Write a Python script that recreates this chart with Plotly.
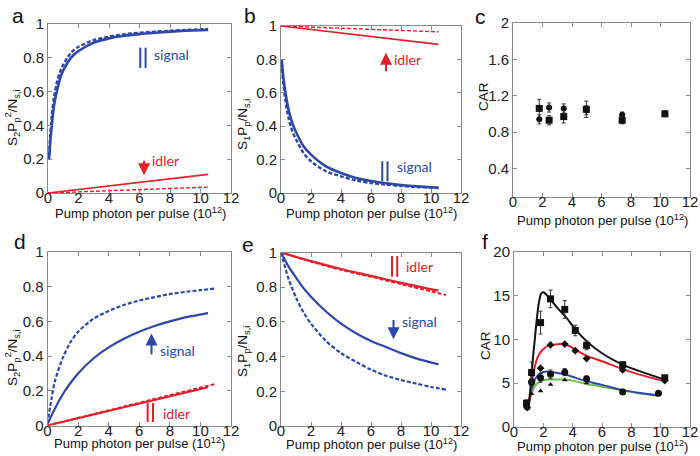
import plotly.graph_objects as go

# ---------------- data ----------------
# Panel a
a_x = [0.07, 0.15, 0.25, 0.4, 0.6, 0.8, 1.0, 1.5, 2, 3, 4, 5, 6, 7, 8, 9, 10.5]
a_sig_solid = [0.2, 0.3, 0.4, 0.52, 0.61, 0.68, 0.725, 0.8, 0.84, 0.89, 0.915, 0.93, 0.94, 0.948, 0.955, 0.96, 0.965]
a_sig_dash = [0.22, 0.35, 0.46, 0.57, 0.66, 0.72, 0.76, 0.83, 0.865, 0.905, 0.925, 0.94, 0.948, 0.955, 0.96, 0.965, 0.97]
a_idl_x = [0, 10.5]
a_idl_solid = [0.0, 0.11]
a_idl_dash = [0.0, 0.035]

# Panel b
b_x = [0.05, 0.15, 0.3, 0.5, 0.75, 1.0, 1.5, 2, 3, 4, 5, 6, 7, 8, 9, 10.5]
b_sig_solid = [0.8, 0.7, 0.6, 0.5, 0.42, 0.365, 0.28, 0.23, 0.16, 0.12, 0.09, 0.072, 0.058, 0.048, 0.04, 0.032]
b_sig_dash = [0.78, 0.66, 0.55, 0.45, 0.37, 0.32, 0.24, 0.19, 0.13, 0.1, 0.075, 0.06, 0.05, 0.042, 0.036, 0.03]
b_idl_x = [0, 10.5]
b_idl_solid = [1.0, 0.89]
b_idl_dash = [1.0, 0.965]

# Panel c
c_x = [1.78, 2.45, 3.44, 4.97, 7.40, 10.3]
c_sq = [1.06, 0.93, 0.97, 1.05, 0.93, 1.0]
c_sq_err = [0.1, 0.05, 0.07, 0.09, 0.04, 0.03]
c_ci = [0.94, 1.07, 1.06, 1.04, 0.99, 1.0]
c_ci_err = [0.05, 0.05, 0.05, 0.05, 0.03, 0.03]

# Panel d
d_x = [0, 0.25, 0.5, 1, 1.5, 2, 3, 4, 5, 6, 7, 8, 9, 10.5]
d_sig_solid = [0.01, 0.055, 0.1, 0.18, 0.245, 0.3, 0.386, 0.45, 0.5, 0.54, 0.573, 0.6, 0.623, 0.648]
d_x_dash = [0, 0.25, 0.5, 1, 1.5, 2, 3, 4, 5, 6, 7, 8, 9, 10, 11]
d_sig_dash = [0.01, 0.15, 0.26, 0.39, 0.48, 0.54, 0.615, 0.66, 0.695, 0.72, 0.74, 0.757, 0.77, 0.78, 0.79]
d_idl_x_solid = [0, 10.5]
d_idl_solid = [0.0, 0.22]
d_idl_x_dash = [0, 11]
d_idl_dash = [0.0, 0.24]

# Panel e
e_x = [0, 0.5, 1, 1.5, 2, 3, 4, 5, 6, 7, 8, 9, 10.5]
e_sig_solid = [1.0, 0.92, 0.855, 0.795, 0.745, 0.66, 0.59, 0.535, 0.49, 0.455, 0.42, 0.39, 0.355]
e_x_dash = [0, 0.5, 1, 1.5, 2, 3, 4, 5, 6, 7, 8, 9, 10, 11]
e_sig_dash = [1.0, 0.85, 0.74, 0.655, 0.59, 0.49, 0.42, 0.37, 0.325, 0.29, 0.265, 0.245, 0.225, 0.21]
e_idl_x = [0, 2, 4, 6, 8, 10.5]
e_idl_solid = [1.0, 0.95, 0.905, 0.865, 0.825, 0.78]
e_idl_x_dash = [0, 2, 4, 6, 8, 11]
e_idl_dash = [1.0, 0.948, 0.9, 0.86, 0.818, 0.755]

# Panel f (markers)
f_sq_x = [0.85, 1.2, 1.81, 2.49, 3.46, 4.18, 4.95, 7.41, 10.28]
f_sq_y = [2.7, 6.2, 11.9, 14.6, 13.4, 11.0, 9.3, 7.1, 5.6]
f_sq_err = [0.4, 1.2, 1.3, 1.0, 1.0, 0.6, 0.5, 0.3, 0.3]
f_di_x = [0.9, 1.2, 1.81, 2.49, 3.46, 4.18, 4.95, 7.41, 10.28]
f_di_y = [2.2, 5.2, 6.7, 9.35, 9.45, 8.7, 7.8, 6.5, 5.3]
f_ci_x = [0.85, 1.2, 1.81, 2.49, 3.46, 4.95, 7.41, 9.85]
f_ci_y = [2.5, 5.1, 5.6, 6.0, 6.25, 5.5, 4.0, 3.85]
f_ci_err = [0.3, 0.4, 0.5, 0.5, 0.4, 0.3, 0.3, 0.2]
f_tr_x = [0.9, 1.2, 1.81, 2.49, 3.46, 4.95, 7.41, 9.85]
f_tr_y = [2.1, 3.8, 4.1, 4.85, 5.35, 5.0, 4.0, 3.8]
# Panel f (fit curves)
f_k_x = [1.0, 1.1, 1.2, 1.3, 1.42, 1.55, 1.7, 1.85, 2.0, 2.2, 2.5, 3.0, 3.5, 4.2, 5.0, 6.0, 7.4, 8.5, 10.3]
f_k_y = [2.5, 4.0, 6.0, 8.0, 10.0, 12.2, 14.2, 15.2, 15.35, 15.1, 14.5, 13.5, 12.6, 11.1, 9.7, 8.4, 7.1, 6.4, 5.4]
f_r_x = [1.0, 1.1, 1.2, 1.3, 1.42, 1.6, 1.8, 2.0, 2.4, 2.9, 3.3, 3.8, 4.2, 5.0, 6.0, 7.4, 8.5, 10.3]
f_r_y = [2.5, 3.6, 4.8, 5.9, 6.9, 7.9, 8.5, 8.9, 9.3, 9.42, 9.45, 9.2, 8.8, 8.07, 7.5, 6.6, 6.0, 5.2]
f_bg_x = [1.0, 1.1, 1.2, 1.3, 1.42, 1.6, 1.8, 2.1, 2.4, 2.8, 3.5, 4.2, 5.0, 6.0, 7.4, 8.5, 9.85]
f_b_y = [2.5, 3.5, 4.3, 4.9, 5.4, 5.85, 6.15, 6.3, 6.3, 6.2, 6.0, 5.6, 5.2, 4.8, 4.2, 3.9, 3.6]
f_g_y = [2.5, 3.2, 3.8, 4.3, 4.66, 5.0, 5.2, 5.35, 5.4, 5.42, 5.4, 5.2, 4.9, 4.6, 4.2, 3.85, 3.55]

x_ticks = [0, 2, 4, 6, 8, 10, 12]
y_ticks_frac = [0, 0.2, 0.4, 0.6, 0.8, 1]
y_ticks_frac_txt = ["0", "0.2", "0.4", "0.6", "0.8", "1"]
y_ticks_c = [0.4, 0.8, 1.2, 1.6, 2]
y_ticks_c_txt = ["0.4", "0.8", "1.2", "1.6", "2"]
y_ticks_f = [0, 5, 10, 15, 20]

BLUE = "#2c48a8"
RED = "#e3202a"
BLACK = "#111111"
GREEN = "#6cc24a"
FONT = "Liberation Sans, Arial, sans-serif"
LFONT = "Lato, Open Sans, sans-serif"

fig = go.Figure()

def line(x, y, color, dash="solid", width=2.2, ax="", shape="spline"):
    fig.add_trace(go.Scatter(x=x, y=y, mode="lines", xaxis="x" + ax, yaxis="y" + ax,
                             line=dict(color=color, dash=dash, width=width, shape=shape, smoothing=0.8),
                             showlegend=False, hoverinfo="skip"))

DASH = "4px,2px"
# a
line(a_x, a_sig_dash, BLUE, DASH, 2.4, "")
line(a_x, a_sig_solid, BLUE, "solid", 2.6, "")
line(a_idl_x, a_idl_solid, RED, "solid", 1.6, "", "linear")
line(a_idl_x, a_idl_dash, RED, DASH, 1.4, "", "linear")
# b
line(b_x, b_sig_dash, BLUE, DASH, 2.4, "2")
line(b_x, b_sig_solid, BLUE, "solid", 2.6, "2")
line(b_idl_x, b_idl_solid, RED, "solid", 1.6, "2", "linear")
line(b_idl_x, b_idl_dash, RED, DASH, 1.4, "2", "linear")
# c
fig.add_trace(go.Scatter(x=c_x, y=c_sq, mode="markers", xaxis="x3", yaxis="y3",
                         marker=dict(symbol="square", size=7, color=BLACK),
                         error_y=dict(type="data", array=c_sq_err, color="#333", thickness=1, width=2),
                         showlegend=False))
fig.add_trace(go.Scatter(x=c_x, y=c_ci, mode="markers", xaxis="x3", yaxis="y3",
                         marker=dict(symbol="circle", size=6, color=BLACK),
                         error_y=dict(type="data", array=c_ci_err, color="#333", thickness=1, width=2),
                         showlegend=False))
# d
line(d_x_dash, d_sig_dash, BLUE, DASH, 2.2, "4")
line(d_x, d_sig_solid, BLUE, "solid", 2.2, "4")
line(d_idl_x_dash, d_idl_dash, RED, DASH, 2.0, "4", "linear")
line(d_idl_x_solid, d_idl_solid, RED, "solid", 2.0, "4", "linear")
# e
line(e_idl_x_dash, e_idl_dash, RED, DASH, 2.0, "5")
line(e_idl_x, e_idl_solid, RED, "solid", 2.2, "5")
line(e_x_dash, e_sig_dash, BLUE, DASH, 2.2, "5")
line(e_x, e_sig_solid, BLUE, "solid", 2.2, "5")
# f curves
line(f_bg_x, f_g_y, GREEN, "solid", 2.0, "6")
line(f_bg_x, f_b_y, BLUE, "solid", 2.0, "6")
line(f_r_x, f_r_y, RED, "solid", 2.0, "6")
line(f_k_x, f_k_y, BLACK, "solid", 2.0, "6")
# f markers
fig.add_trace(go.Scatter(x=f_tr_x, y=f_tr_y, mode="markers", xaxis="x6", yaxis="y6",
                         marker=dict(symbol="triangle-up", size=5, color=BLACK), showlegend=False))
fig.add_trace(go.Scatter(x=f_ci_x, y=f_ci_y, mode="markers", xaxis="x6", yaxis="y6",
                         marker=dict(symbol="circle", size=7, color=BLACK),
                         error_y=dict(type="data", array=f_ci_err, color="#333", thickness=1, width=2),
                         showlegend=False))
fig.add_trace(go.Scatter(x=f_di_x, y=f_di_y, mode="markers", xaxis="x6", yaxis="y6",
                         marker=dict(symbol="diamond", size=6, color=BLACK), showlegend=False))
fig.add_trace(go.Scatter(x=f_sq_x, y=f_sq_y, mode="markers", xaxis="x6", yaxis="y6",
                         marker=dict(symbol="square", size=7, color=BLACK),
                         error_y=dict(type="data", array=f_sq_err, color="#333", thickness=1, width=2),
                         showlegend=False))

# ---------------- axes ----------------
W, H = 700, 456
def dom_x(l, r):
    return [l / W, r / W]
def dom_y(t, b):
    return [1 - b / H, 1 - t / H]

XTITLE = "Pump photon per pulse (10<sup>12</sup>)"
Y_S2 = "S<sub>2</sub>P<sub>p</sub><sup>2</sup>/N<sub>s,i</sub>"
Y_S1 = "S<sub>1</sub>P<sub>p</sub>/N<sub>s,i</sub>"

common = dict(showline=True, linecolor="#8a8a8a", linewidth=1, mirror="ticks", ticks="inside",
              ticklen=4, tickcolor="#8a8a8a", showgrid=False, zeroline=False,
              automargin=False, ticklabeloverflow="allow",
              tickfont=dict(family=FONT, size=15, color="#222"))

def xax(l, r, anchor):
    return dict(common, domain=dom_x(l, r), range=[0, 12], tickvals=x_ticks, anchor=anchor,
                ticklabelstandoff=-9)

def yax(t, b, anchor, rng, tv, tt):
    return dict(common, domain=dom_y(t, b), range=rng, tickvals=tv, ticktext=tt, anchor=anchor)

layout = dict(
    template="none",
    width=W, height=H, margin=dict(l=0, r=0, t=0, b=0, pad=0), autosize=False,
    paper_bgcolor="white", plot_bgcolor="white", showlegend=False,
    xaxis=xax(48, 231, "y"),
    yaxis=yax(24, 193, "x", [0, 1], y_ticks_frac, y_ticks_frac_txt),
    xaxis2=xax(281, 461, "y2"),
    yaxis2=yax(26, 193, "x2", [0, 1], y_ticks_frac, y_ticks_frac_txt),
    xaxis3=xax(513, 690, "y3"),
    yaxis3=yax(23, 197, "x3", [0.085, 2], y_ticks_c, y_ticks_c_txt),
    xaxis4=xax(47.5, 231, "y4"),
    yaxis4=yax(252, 425.5, "x4", [0, 1], y_ticks_frac, y_ticks_frac_txt),
    xaxis5=xax(281, 461, "y5"),
    yaxis5=yax(252.5, 426, "x5", [0, 1], y_ticks_frac, y_ticks_frac_txt),
    xaxis6=xax(514, 690, "y6"),
    yaxis6=yax(251.5, 427, "x6", [0, 20], y_ticks_f, [str(v) for v in y_ticks_f]),
)
fig.update_layout(**layout)

# ---------------- annotations ----------------
ann = []
def paper_text(text, px, py, size, angle=0, family=FONT):
    ann.append(dict(text=text, x=px / W, y=1 - py / H, xref="paper", yref="paper",
                    showarrow=False, textangle=angle, font=dict(family=family, size=size, color="#111"),
                    xanchor="center", yanchor="middle"))

# panel letters
for letter, px, py in [("a", 18, 15), ("b", 250, 15), ("c", 480, 17), ("d", 20, 241), ("e", 248, 245), ("f", 485, 241)]:
    paper_text(letter, px, py, 21)

# x titles
for cx, cy in [(140, 213), (371, 213), (602, 220), (139, 443), (371, 443.5), (602, 445.5)]:
    paper_text(XTITLE, cx, cy, 13)
# y titles
for txt, cx, cy in [(Y_S2, 12, 118), (Y_S1, 243, 125), ("CAR", 483, 96),
                    (Y_S2, 12, 358), (Y_S1, 243, 352), ("CAR", 485, 346)]:
    paper_text(txt, cx, cy, 13.5, angle=-90)

def label(text, x, y, ax, color):
    ann.append(dict(text=text, x=x, y=y, xref="x" + ax, yref="y" + ax, showarrow=False,
                    xanchor="left", yanchor="middle", font=dict(family=LFONT, size=14, color=color)))

def arrow(x, y0, y1, ax, color):
    ann.append(dict(x=x, y=y1, ax=x, ay=y0, xref="x" + ax, yref="y" + ax, axref="x" + ax, ayref="y" + ax,
                    text="", showarrow=True, arrowhead=2, arrowsize=1.2, arrowwidth=2, arrowcolor=color))

shapes = []
def bars(x, y0, y1, ax, color, gap=0.35):
    for dx in (0, gap):
        shapes.append(dict(type="line", x0=x + dx, x1=x + dx, y0=y0, y1=y1,
                           xref="x" + ax, yref="y" + ax, line=dict(color=color, width=2)))

# a
bars(6.05, 0.74, 0.86, "", BLUE)
label("signal", 6.8, 0.82, "", BLUE)
arrow(6.3, 0.2, 0.105, "", RED)
label("idler", 6.7, 0.19, "", RED)
# b
arrow(7.0, 0.72, 0.84, "2", RED)
label("idler", 7.4, 0.8, "2", RED)
bars(6.75, 0.07, 0.19, "2", BLUE)
label("signal", 7.6, 0.16, "2", BLUE)
# d
arrow(6.8, 0.40, 0.53, "4", BLUE)
label("signal", 7.2, 0.43, "4", BLUE)
bars(6.55, 0.02, 0.13, "4", RED)
label("idler", 7.4, 0.07, "4", RED)
# e
bars(7.4, 0.86, 0.98, "5", RED)
label("idler", 8.2, 0.92, "5", RED)
arrow(7.5, 0.62, 0.5, "5", BLUE)
label("signal", 7.9, 0.6, "5", BLUE)

fig.update_layout(annotations=ann, shapes=shapes)
fig.write_html("out.html", config={"displayModeBar": False},
               post_script="document.body.style.margin='0px';")
